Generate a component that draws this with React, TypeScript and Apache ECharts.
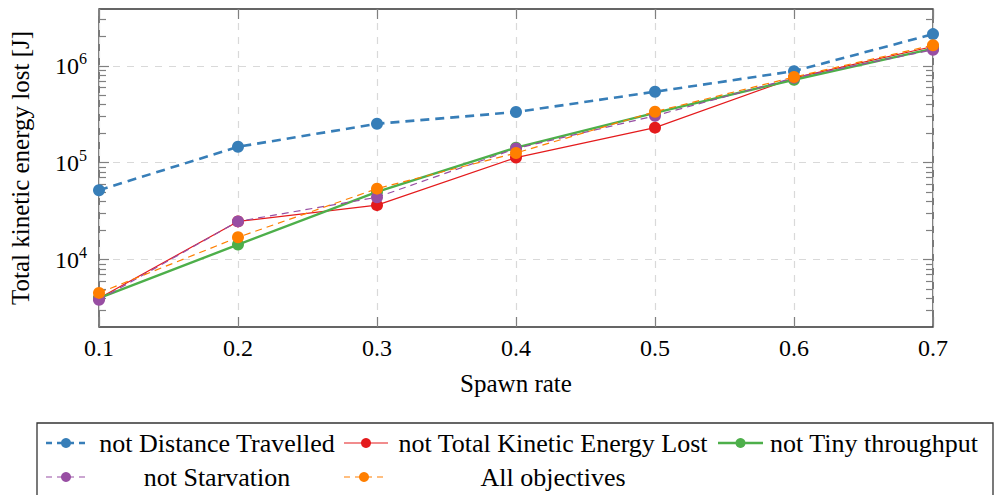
import React, { useEffect, useRef } from "react";
import * as echarts from "echarts";

// ---- data ----
const spawnRates = [0.1, 0.2, 0.3, 0.4, 0.5, 0.6, 0.7];
const seriesNames = [
  "not Distance Travelled",
  "not Total Kinetic Energy Lost",
  "not Tiny throughput",
  "not Starvation",
  "All objectives",
];
const notDistanceTravelled = [52000, 146000, 252000, 333000, 540000, 880000, 2120000];
const notTotalKineticEnergyLost = [4000, 24800, 36500, 113000, 230000, 750000, 1580000];
const notTinyThroughput = [4000, 14300, 50000, 143000, 327000, 718000, 1500000];
const notStarvation = [3850, 24800, 44000, 140000, 305000, 750000, 1460000];
const allObjectives = [4540, 17000, 54000, 126000, 336000, 765000, 1630000];
const majorYTicks = [1e4, 1e5, 1e6];
const minorYTicks = [
  3000, 4000, 5000, 6000, 7000, 8000, 9000,
  20000, 30000, 40000, 50000, 60000, 70000, 80000, 90000,
  200000, 300000, 400000, 500000, 600000, 700000, 800000, 900000,
  2000000, 3000000,
];

// ---- styles ----
const FONT = "Liberation Serif";
const colors = ["#377eb8", "#e41a1c", "#4daf4a", "#984ea3", "#ff7f00"];
const lineStyles = [
  { width: 2.6, type: [9, 6] },
  { width: 1.2, type: "solid" },
  { width: 2.4, type: "solid" },
  { width: 1.2, type: [7, 5] },
  { width: 1.2, type: [7, 5] },
];
const legendLayout = [
  { x0: 46, x1: 86, cy: 443, tx: 217 },
  { x0: 344, x1: 388, cy: 443, tx: 553 },
  { x0: 718, x1: 763, cy: 443, tx: 874 },
  { x0: 46, x1: 86, cy: 477, tx: 217 },
  { x0: 344, x1: 384, cy: 477, tx: 553 },
];

const Y_MIN = 2020;
const Y_MAX = 3.85e6;
const TICK_COLOR = "#808080";

export default function App() {
  const ref = useRef<HTMLDivElement>(null);
  useEffect(() => {
    if (!ref.current) return;
    const chart = echarts.init(ref.current, null, { renderer: "svg" });
    const values = [
      notDistanceTravelled,
      notTotalKineticEnergyLost,
      notTinyThroughput,
      notStarvation,
      allObjectives,
    ];
    const series = values.map((vals, i) => ({
      name: seriesNames[i],
      type: "line",
      xAxisIndex: 0,
      yAxisIndex: 0,
      data: spawnRates.map((x, j) => [x, vals[j]]),
      symbol: "circle",
      symbolSize: 12,
      showSymbol: true,
      clip: false,
      itemStyle: { color: colors[i] },
      lineStyle: { color: colors[i], width: lineStyles[i].width, type: lineStyles[i].type },
      z: 3 + i,
    }));

    const yBase = {
      type: "log",
      logBase: 10,
      min: Y_MIN,
      max: Y_MAX,
      axisLine: { show: false },
    };

    const legendElements: any[] = [
      {
        type: "rect",
        shape: { x: 37, y: 423, width: 956, height: 100 },
        style: { fill: "none", stroke: "#333", lineWidth: 1.3 },
        z: 10,
      },
    ];
    seriesNames.forEach((name, i) => {
      const L = legendLayout[i];
      const ls = lineStyles[i];
      legendElements.push({
        type: "line",
        shape: { x1: L.x0, y1: L.cy, x2: L.x1, y2: L.cy },
        style: {
          stroke: colors[i],
          lineWidth: ls.width,
          lineDash: Array.isArray(ls.type) ? [6, 5] : null,
        },
        z: 11,
      });
      legendElements.push({
        type: "circle",
        shape: { cx: (L.x0 + L.x1) / 2, cy: L.cy, r: 5 },
        style: { fill: colors[i] },
        z: 12,
      });
      legendElements.push({
        type: "text",
        x: L.tx,
        y: L.cy,
        style: {
          text: name,
          fontFamily: FONT,
          fontSize: 26,
          fill: "#000",
          align: "center",
          verticalAlign: "middle",
        },
        z: 12,
      });
    });

    chart.setOption({
      animation: false,
      backgroundColor: "#fff",
      textStyle: { fontFamily: FONT },
      grid: {
        left: 99,
        right: 71,
        top: 9,
        bottom: 168,
        show: true,
        borderColor: "#333",
        borderWidth: 1.3,
        backgroundColor: "transparent",
      },
      xAxis: [
        {
          type: "value",
          min: 0.1,
          max: 0.7,
          interval: 0.1,
          name: "Spawn rate",
          nameLocation: "middle",
          nameGap: 44,
          nameTextStyle: { fontFamily: FONT, fontSize: 25, color: "#000" },
          axisLine: { show: false },
          axisTick: { show: true, inside: true, length: 10, lineStyle: { color: TICK_COLOR, width: 1.2 } },
          axisLabel: {
            margin: 9,
            fontFamily: FONT,
            fontSize: 24,
            color: "#000",
            formatter: (v: number) => v.toFixed(1),
          },
          splitLine: { show: true, lineStyle: { color: "#d9d9d9", width: 1.2, type: [7, 7] } },
        },
        {
          type: "value",
          position: "top",
          min: 0.1,
          max: 0.7,
          interval: 0.1,
          axisLine: { show: false },
          axisTick: { show: true, inside: true, length: 10, lineStyle: { color: TICK_COLOR, width: 1.2 } },
          axisLabel: { show: false },
          splitLine: { show: false },
        },
      ],
      yAxis: [
        {
          ...yBase,
          position: "left",
          name: "Total kinetic energy lost [J]",
          nameLocation: "middle",
          nameGap: 66,
          nameRotate: 90,
          nameTextStyle: { fontFamily: FONT, fontSize: 25, color: "#000" },
          axisTick: {
            show: true,
            inside: true,
            length: 10,
            customValues: majorYTicks,
            lineStyle: { color: TICK_COLOR, width: 1.2 },
          },
          axisLabel: {
            margin: 12,
            customValues: majorYTicks,
            formatter: (v: number) => `{b|10}{s|${Math.round(Math.log10(v))}}`,
            rich: {
              b: { fontFamily: FONT, fontSize: 24, color: "#000" },
              s: { fontFamily: FONT, fontSize: 16, color: "#000", padding: [0, 0, 14, 0] },
            },
          },
          splitLine: { show: true, lineStyle: { color: "#d9d9d9", width: 1.2, type: [7, 7] } },
        },
        {
          ...yBase,
          position: "left",
          axisTick: {
            show: true,
            inside: true,
            length: 7,
            customValues: minorYTicks,
            lineStyle: { color: TICK_COLOR, width: 1.2 },
          },
          axisLabel: { show: false },
          splitLine: { show: false },
        },
        {
          ...yBase,
          position: "right",
          axisTick: {
            show: true,
            inside: true,
            length: 10,
            customValues: majorYTicks,
            lineStyle: { color: TICK_COLOR, width: 1.2 },
          },
          axisLabel: { show: false },
          splitLine: { show: false },
        },
        {
          ...yBase,
          position: "right",
          axisTick: {
            show: true,
            inside: true,
            length: 7,
            customValues: minorYTicks,
            lineStyle: { color: TICK_COLOR, width: 1.2 },
          },
          axisLabel: { show: false },
          splitLine: { show: false },
        },
      ],
      series,
      graphic: legendElements,
    });
    return () => chart.dispose();
  }, []);
  return (
    <div
      ref={ref}
      style={{ position: "fixed", left: 0, top: 0, width: 1004, height: 495, background: "#fff" }}
    />
  );
}
